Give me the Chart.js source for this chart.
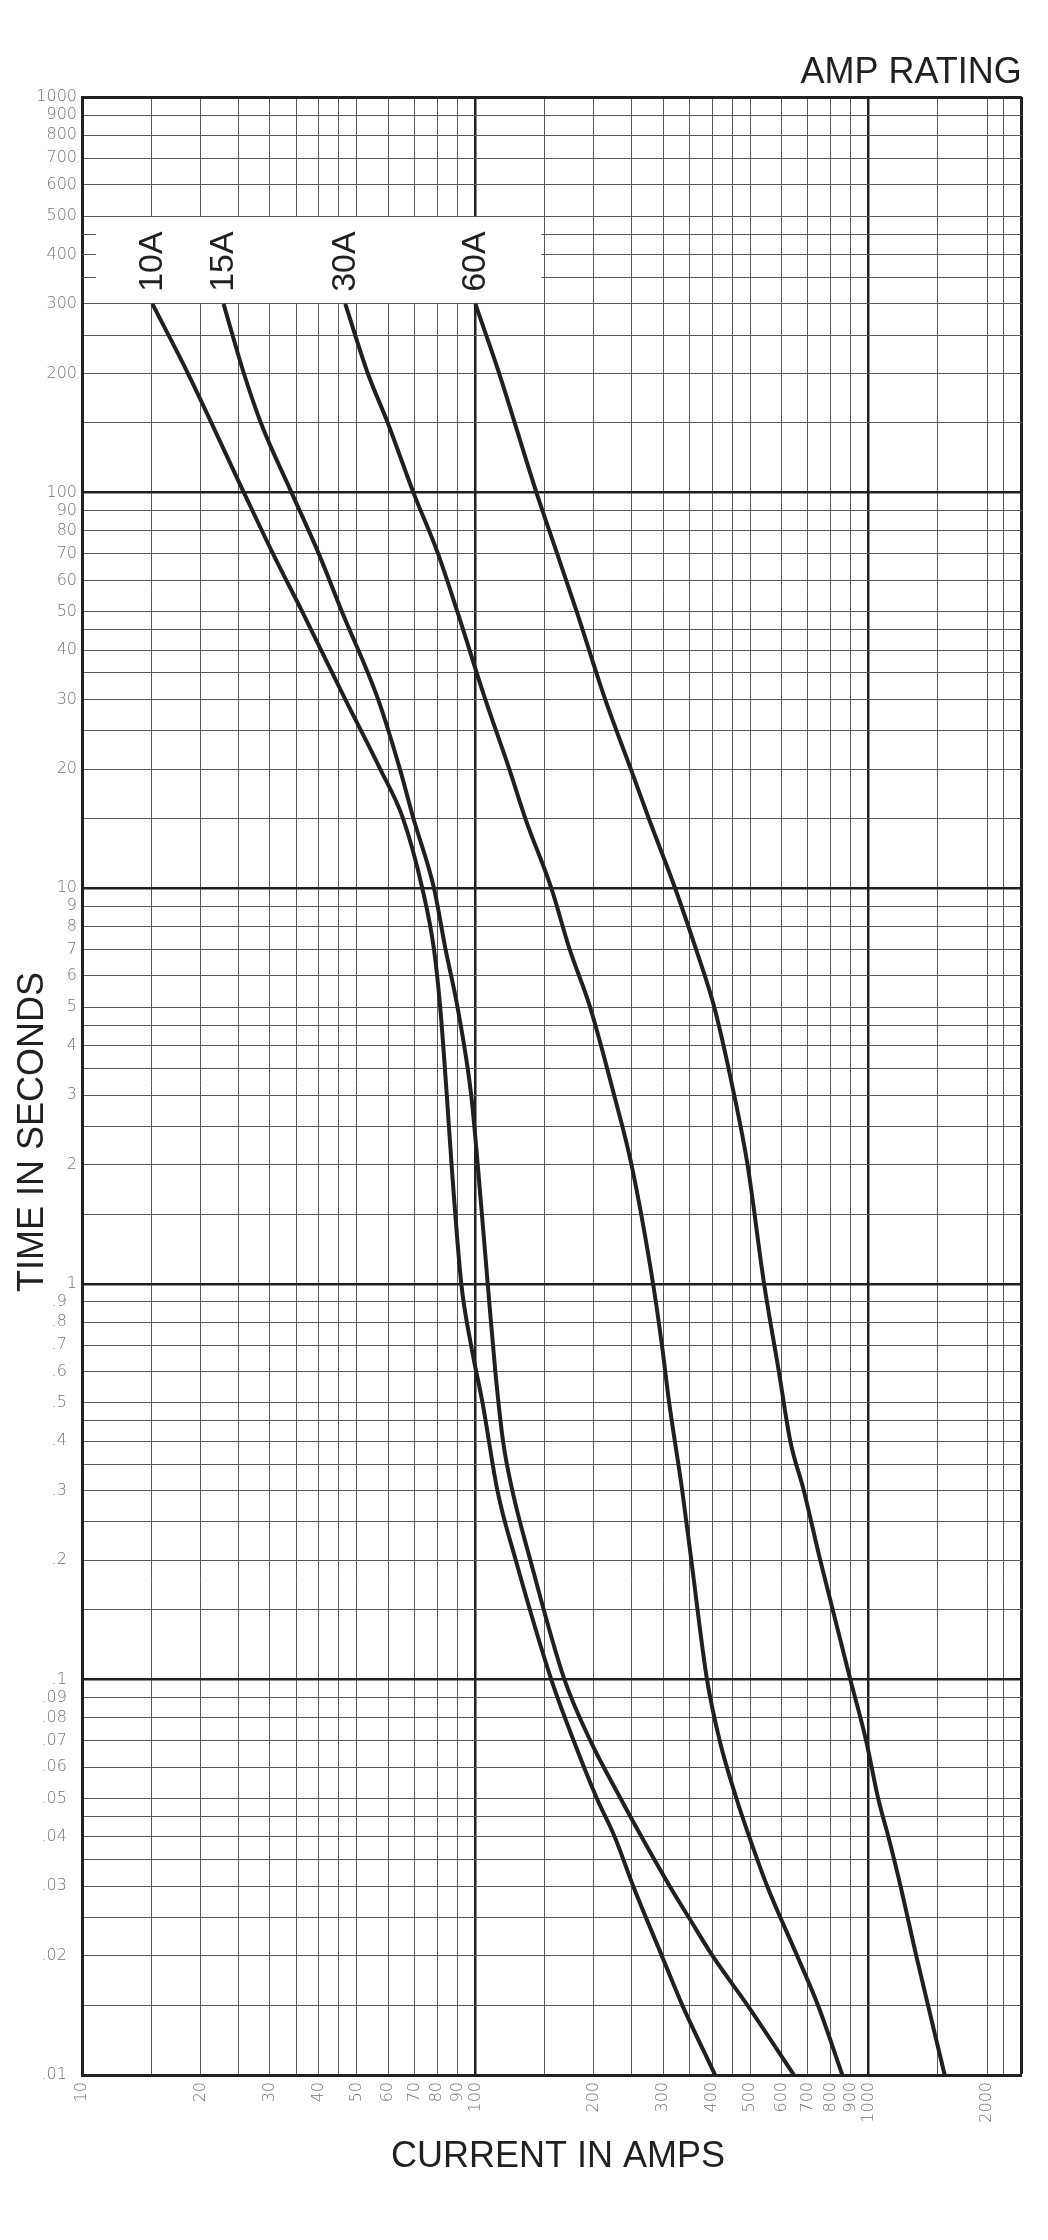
<!DOCTYPE html>
<html>
<head>
<meta charset="utf-8">
<script src="https://cdn.jsdelivr.net/npm/chart.js@4.4.1/dist/chart.umd.min.js"></script>
<style>
html,body{margin:0;padding:0;background:#ffffff;}
canvas{display:block;}
</style>
</head>
<body>
<canvas id="c" width="1048" height="2240"></canvas>
<script>
// ---- Series data (current in amps, time in seconds) ----
const ratings = ['10A', '15A', '30A', '60A'];

const amps10 = [15.1,18.6,25.8,30.6,36.3,46.7,57.3,65.5,73.3,78.5,81.4,84.6,87.0,92.1,97.5,104.3,113.8,126.7,155.9,177.8,203.7,226,252,298,336,407];
const secs10 = [300,200,100,70,50,30,20,15,10,7,5,3,2,1,0.7,0.5,0.3,0.2,0.1,0.07,0.05,0.04,0.03,0.02,0.015,0.01];

const amps15 = [22.9,25.8,28.5,34.1,40.0,45.8,56.6,64.3,69.6,78.5,84.0,90.1,97.6,101.4,107.5,112.4,117.6,124.2,138,168.4,196,234,264.5,312,349,401,492,645.5];
const secs15 = [300,200,150,100,70,50,30,20,15,10,7,5,3,2,1,0.6,0.4,0.3,0.2,0.1,0.07,0.05,0.04,0.03,0.025,0.02,0.015,0.01];

const amps30 = [46.7,53.3,59.9,69.6,80.4,90,106,122,134,156,173.7,195.8,225.3,249.4,283,298,311,335.7,354,388,418,461,497,552,658,743,857];
const secs30 = [300,200,150,100,70,50,30,20,15,10,7,5,3,2,1,0.7,0.5,0.3,0.2,0.1,0.07,0.05,0.04,0.03,0.02,0.015,0.01];

const amps60 = [100,115,143,161.5,181,213.8,248.5,276,322,364,405,455,492,542,591,632,684,753,898,985,1057,1122,1205,1321,1560];
const secs60 = [300,200,100,70,50,30,20,15,10,7,5,3,2,1,0.6,0.4,0.3,0.2,0.1,0.07,0.05,0.04,0.03,0.02,0.01];

// ---- Axes: ranges, grid values, tick labels ----
const xRange = [10, 2450];
const yRange = [0.01, 1000];

const xGridValues = [10,15,20,25,30,35,40,45,50,60,70,80,90,100,150,200,250,300,350,400,450,500,600,700,800,900,1000,1500,2000,2200,2450];
const xLabelValues = [10,20,30,40,50,60,70,80,90,100,200,300,400,500,600,700,800,900,1000,2000];
const xLabelTexts  = ['10','20','30','40','50','60','70','80','90','100','200','300','400','500','600','700','800','900','1000','2000'];
const xMajorValues = [100, 1000];

const yGridValues = [0.01,0.015,0.02,0.025,0.03,0.035,0.04,0.045,0.05,0.06,0.07,0.08,0.09,
  0.1,0.15,0.2,0.25,0.3,0.35,0.4,0.45,0.5,0.6,0.7,0.8,0.9,
  1,1.5,2,2.5,3,3.5,4,4.5,5,6,7,8,9,
  10,15,20,25,30,35,40,45,50,60,70,80,90,
  100,150,200,250,300,350,400,450,500,600,700,800,900,1000];
const yLabelValues = [0.01,0.02,0.03,0.04,0.05,0.06,0.07,0.08,0.09,
  0.1,0.2,0.3,0.4,0.5,0.6,0.7,0.8,0.9,
  1,2,3,4,5,6,7,8,9,
  10,20,30,40,50,60,70,80,90,
  100,200,300,400,500,600,700,800,900,1000];
const yLabelTexts = ['.01','.02','.03','.04','.05','.06','.07','.08','.09',
  '.1','.2','.3','.4','.5','.6','.7','.8','.9',
  '1','2','3','4','5','6','7','8','9',
  '10','20','30','40','50','60','70','80','90',
  '100','200','300','400','500','600','700','800','900','1000'];
const yMajorValues = [0.1, 1, 10, 100];

// white label panel (in data units)
const panelAmps = [10, 147];
const panelSecs = [300, 500];

const titleText = 'AMP RATING';
const xTitleText = 'CURRENT IN AMPS';
const yTitleText = 'TIME IN SECONDS';

// ---- build ----
const ampSeries = [amps10, amps15, amps30, amps60];
const secSeries = [secs10, secs15, secs30, secs60];
const INK = '#231f20';
const GRID = '#5a5a5a';
const TICK = '#737373';

const xLabelMap = new Map(xLabelValues.map((v, i) => [v, xLabelTexts[i]]));
const yLabelMap = new Map(yLabelValues.map((v, i) => [v, yLabelTexts[i]]));

function gridColor(ctx, majors, maxV) {
  const v = ctx.tick ? ctx.tick.value : null;
  if (v === maxV || majors.includes(v)) return INK;
  return GRID;
}
function gridWidth(ctx, majors, maxV) {
  const v = ctx.tick ? ctx.tick.value : null;
  if (v === maxV) return 3;
  if (majors.includes(v)) return 2.5;
  return 1;
}

const paperPlugin = {
  id: 'paper',
  beforeDatasetsDraw(chart) {
    const { ctx, chartArea: a } = chart;
    const xs = chart.scales.x, ys = chart.scales.y;
    const x0 = a.left + 2;
    const x1 = xs.getPixelForValue(panelAmps[1]);
    const yTop = ys.getPixelForValue(panelSecs[1]) + 1;
    const yBot = ys.getPixelForValue(panelSecs[0]) - 1;
    ctx.save();
    ctx.fillStyle = '#ffffff';
    ctx.fillRect(x0, yTop, x1 - x0, yBot - yTop);
    ctx.strokeStyle = GRID;
    ctx.lineWidth = 1;
    ys.ticks.forEach(t => {
      if (t.value > panelSecs[0] && t.value < panelSecs[1]) {
        const py = Math.round(ys.getPixelForValue(t.value)) + 0.5;
        ctx.beginPath();
        ctx.moveTo(a.left, py);
        ctx.lineTo(a.left + 14, py);
        ctx.stroke();
      }
    });
    ctx.restore();
  },
  afterDatasetsDraw(chart) {
    const { ctx, chartArea: a } = chart;
    ctx.save();
    ctx.fillStyle = INK;
    // rating labels above the start of each curve
    ctx.font = '34px "Liberation Sans", Arial, sans-serif';
    chart.data.datasets.forEach((ds, i) => {
      const meta = chart.getDatasetMeta(i);
      const p = meta.data[0];
      ctx.save();
      ctx.translate(p.x, p.y - 12);
      ctx.rotate(-Math.PI / 2);
      ctx.textAlign = 'left';
      ctx.textBaseline = 'middle';
      ctx.fillText(ratings[i], 0, 0);
      ctx.restore();
    });
    // titles
    ctx.font = '36px "Liberation Sans", Arial, sans-serif';
    ctx.textAlign = 'right';
    ctx.textBaseline = 'alphabetic';
    ctx.fillText(titleText, a.right, 83);
    ctx.textAlign = 'center';
    ctx.fillText(xTitleText, (a.left + a.right) / 2 + 6, 2167);
    ctx.save();
    ctx.translate(43, 1132);
    ctx.rotate(-Math.PI / 2);
    ctx.textAlign = 'center';
    ctx.fillText(yTitleText, 0, 0);
    ctx.restore();
    ctx.restore();
  }
};

const tickFont = { family: '"DejaVu Sans", sans-serif', size: 16, weight: '200' };

new Chart(document.getElementById('c'), {
  type: 'line',
  data: {
    datasets: ratings.map((r, i) => ({
      label: r,
      data: ampSeries[i].map((a, j) => ({ x: a, y: secSeries[i][j] })),
      borderColor: INK,
      borderWidth: 4,
      pointRadius: 0,
      fill: false,
      cubicInterpolationMode: 'monotone'
    }))
  },
  options: {
    responsive: false,
    animation: false,
    layout: { padding: { top: 97, right: 20, left: 0, bottom: 0 } },
    plugins: { legend: { display: false }, tooltip: { enabled: false }, title: { display: false } },
    scales: {
      x: {
        type: 'logarithmic',
        min: xRange[0],
        max: xRange[1],
        afterBuildTicks: s => { s.ticks = xGridValues.map(v => ({ value: v })); },
        afterFit: s => { s.height = 165; },
        border: { display: true, color: INK, width: 3 },
        grid: {
          drawTicks: false,
          color: c => gridColor(c, xMajorValues, xRange[1]),
          lineWidth: c => gridWidth(c, xMajorValues, xRange[1])
        },
        ticks: {
          autoSkip: false,
          minRotation: 90,
          maxRotation: 90,
          padding: 7,
          color: TICK,
          font: tickFont,
          callback: v => xLabelMap.has(v) ? xLabelMap.get(v) : ''
        }
      },
      y: {
        type: 'logarithmic',
        min: yRange[0],
        max: yRange[1],
        afterBuildTicks: s => { s.ticks = yGridValues.map(v => ({ value: v })); },
        afterFit: s => { s.width = 82; },
        border: { display: true, color: INK, width: 3 },
        grid: {
          drawTicks: false,
          color: c => gridColor(c, yMajorValues, yRange[1]),
          lineWidth: c => gridWidth(c, yMajorValues, yRange[1])
        },
        ticks: {
          autoSkip: false,
          padding: 5,
          color: TICK,
          font: tickFont,
          callback: v => {
            if (!yLabelMap.has(v)) return '';
            const t = yLabelMap.get(v);
            return t.charAt(0) === '.' ? t + '  ' : t;
          }
        }
      }
    }
  },
  plugins: [paperPlugin]
});
</script>
</body>
</html>
